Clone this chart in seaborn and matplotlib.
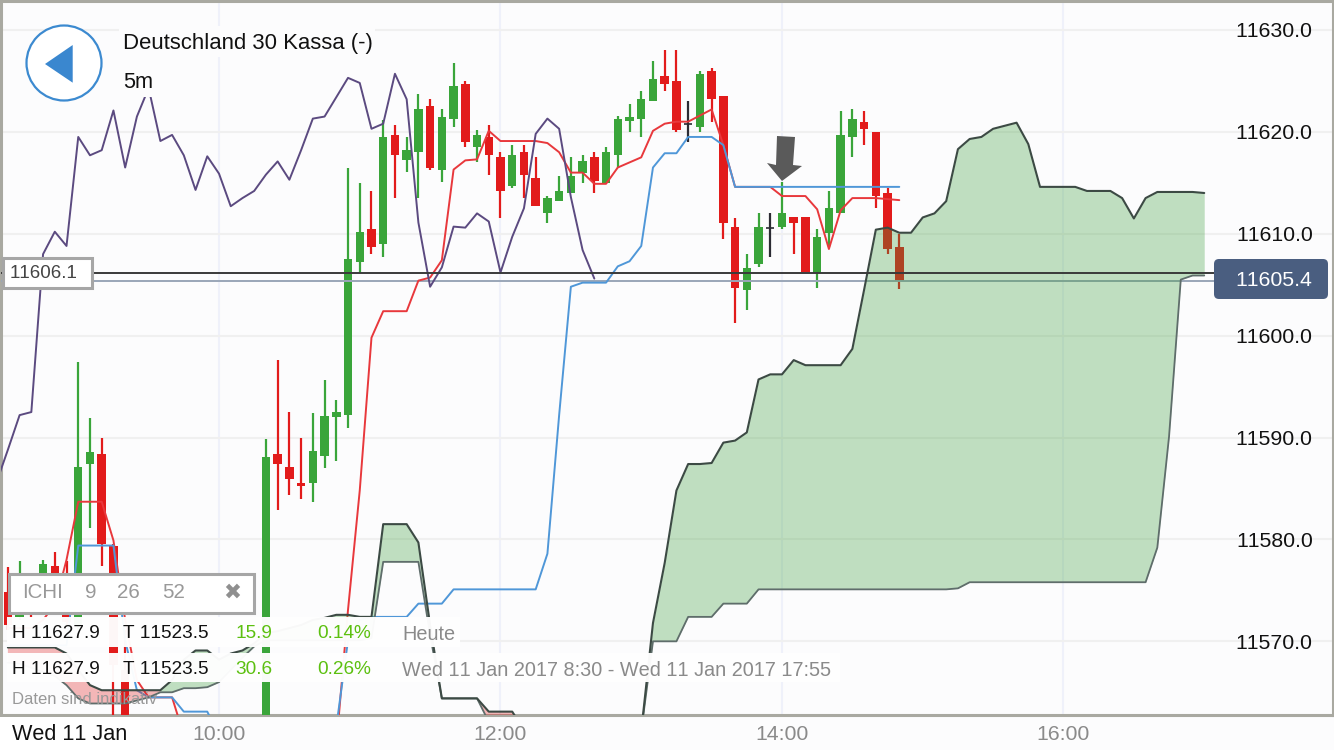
import numpy as np
import matplotlib
matplotlib.use("Agg")
import matplotlib.pyplot as plt
import seaborn as sns
from matplotlib.patches import Circle, FancyBboxPatch, Polygon, Rectangle
from matplotlib.transforms import Affine2D

# minutes since midnight
candle_times = list(range(510, 565, 5)) + list(range(620, 895, 5))
highs = [11577.3, 11577.9, 11576.5, 11578.0, 11578.8, 11577.9, 11597.4, 11591.9, 11590.0, 11579.6, 11571.1,
         11589.9, 11597.6, 11592.5, 11590.0, 11592.4, 11595.6, 11593.7, 11616.5, 11615.0, 11614.2, 11621.2,
         11620.7, 11619.5, 11623.7, 11623.2, 11622.2, 11626.8, 11625.0, 11620.2, 11620.7, 11618.0, 11618.7,
         11618.7, 11617.5, 11613.7, 11615.7, 11617.5, 11617.7, 11618.0, 11618.5, 11621.6, 11622.7, 11624.0,
         11627.0, 11628.0, 11628.0, 11623.0, 11626.0, 11626.3, 11623.5, 11611.5, 11608.0, 11612.0, 11612.0,
         11615.1, 11611.6, 11611.6, 11610.5, 11614.2, 11622.0, 11622.2, 11622.0, 11620.0, 11614.5, 11610.0]
opens = [11574.8, 11572.4, 11576.0, 11574.5, 11577.4, 11575.0, 11571.6, 11587.4, 11588.4, 11579.4, 11567.2,
         11561.3, 11588.4, 11587.1, 11585.5, 11585.5, 11588.2, 11592.0, 11592.2, 11607.2, 11610.5, 11609.0,
         11619.7, 11617.2, 11618.0, 11622.5, 11616.3, 11621.3, 11624.7, 11618.5, 11619.5, 11617.5, 11614.7,
         11618.0, 11615.5, 11612.0, 11613.2, 11614.0, 11616.0, 11617.5, 11615.0, 11617.7, 11621.1, 11621.3,
         11623.0, 11625.5, 11625.0, 11620.8, 11620.5, 11626.0, 11623.5, 11610.7, 11604.5, 11607.0, 11610.6,
         11610.7, 11611.6, 11611.6, 11606.1, 11610.1, 11612.0, 11619.5, 11621.0, 11620.0, 11614.0, 11608.7]
closes = [11571.6, 11575.0, 11573.6, 11577.6, 11575.0, 11571.9, 11587.1, 11588.6, 11579.6, 11567.7, 11561.3,
          11588.1, 11587.4, 11585.9, 11585.2, 11588.7, 11592.1, 11592.5, 11607.5, 11610.2, 11608.7, 11619.5,
          11617.7, 11618.2, 11622.2, 11616.5, 11621.5, 11624.5, 11619.0, 11619.7, 11617.7, 11614.2, 11617.7,
          11615.8, 11612.7, 11613.5, 11614.2, 11615.7, 11617.1, 11615.2, 11618.0, 11621.3, 11621.5, 11623.2,
          11625.2, 11624.7, 11620.2, 11620.8, 11625.7, 11623.2, 11611.1, 11604.7, 11606.6, 11610.7, 11610.6,
          11612.0, 11611.1, 11606.2, 11609.7, 11612.5, 11619.7, 11621.3, 11620.3, 11613.7, 11608.5, 11605.4]
lows = [11571.1, 11572.1, 11572.4, 11574.0, 11574.0, 11571.6, 11571.1, 11581.1, 11577.4, 11562.3, 11560.8,
        11560.8, 11582.9, 11584.4, 11584.0, 11583.7, 11587.0, 11587.7, 11590.9, 11606.1, 11608.0, 11607.7,
        11613.5, 11616.1, 11613.5, 11616.3, 11615.1, 11620.5, 11618.5, 11617.0, 11615.8, 11611.5, 11614.5,
        11613.5, 11612.7, 11611.1, 11613.2, 11614.0, 11615.0, 11614.0, 11615.0, 11616.5, 11620.0, 11619.5,
        11623.0, 11624.0, 11620.0, 11619.0, 11620.0, 11621.0, 11609.5, 11601.2, 11602.5, 11606.7, 11607.7,
        11610.5, 11608.0, 11606.2, 11604.7, 11608.7, 11612.0, 11617.5, 11618.7, 11612.5, 11608.0, 11604.6]

lagging_times = list(range(505, 765, 5))
lagging = [11585.5, 11588.8, 11592.2, 11592.5, 11608.0, 11610.2, 11608.8, 11619.5, 11617.7, 11618.2, 11622.1,
           11616.5, 11621.5, 11624.3, 11619.1, 11619.7, 11617.7, 11614.3, 11617.6, 11615.9, 11612.7, 11613.5,
           11614.2, 11615.8, 11617.1, 11615.3, 11618.2, 11621.3, 11621.5, 11623.4, 11625.3, 11624.8, 11620.3,
           11620.8, 11625.7, 11623.2, 11611.1, 11604.8, 11606.7, 11610.7, 11610.6, 11612.0, 11611.2, 11606.2,
           11609.7, 11612.5, 11619.8, 11621.3, 11620.3, 11613.6, 11608.4, 11605.6]

left_times = list(range(510, 590, 5))
tenkan_left = [11571.3, 11571.3, 11571.3, 11572.1, 11573.6, 11578.0, 11583.7, 11583.7, 11583.7, 11579.9,
               11572.1, 11566.2, 11564.5, 11564.5, 11564.5, 11560.8]
kijun_left_times = list(range(510, 605, 5))
kijun_left = [11569.6, 11569.6, 11569.6, 11569.6, 11569.6, 11569.6, 11579.4, 11579.4, 11579.4, 11579.4,
              11570.1, 11565.2, 11564.5, 11564.5, 11564.5, 11563.1, 11563.1, 11563.1, 11560.8]

right_times = list(range(650, 895, 5))
tenkan_right = [11559.8, 11573.1, 11584.8, 11599.8, 11602.4, 11602.4, 11602.4, 11605.4, 11605.7, 11607.4,
                11616.3, 11617.2, 11617.3, 11620.1, 11619.1, 11619.1, 11619.1, 11619.1, 11618.9, 11618.0,
                11616.0, 11616.0, 11614.9, 11614.9, 11616.5, 11617.0, 11617.5, 11620.1, 11620.8, 11621.0,
                11621.0, 11621.6, 11622.2, 11618.7, 11614.6, 11614.6, 11614.6, 11614.6, 11613.7, 11613.7,
                11613.7, 11612.4, 11608.5, 11612.3, 11613.5, 11613.5, 11613.5, 11613.4, 11613.3]
kijun_right = [11561.6, 11570.1, 11572.1, 11572.4, 11572.4, 11572.4, 11572.4, 11573.7, 11573.7, 11573.7,
               11575.1, 11575.1, 11575.1, 11575.1, 11575.1, 11575.1, 11575.1, 11575.1, 11578.6, 11592.2,
               11604.8, 11605.2, 11605.2, 11605.2, 11606.8, 11607.3, 11608.8, 11616.5, 11617.9, 11617.9,
               11619.5, 11619.5, 11619.5, 11618.7] + [11614.6] * 15

cloud1_times = list(range(510, 735, 5))
cloud1_upper = [11569.4, 11569.4, 11569.4, 11569.4, 11569.4, 11568.8, 11567.2, 11565.7, 11565.2, 11565.2,
                11565.2, 11565.2, 11565.2, 11565.2, 11566.2, 11568.2, 11569.1, 11569.1, 11568.2, 11568.8,
                11569.1, 11569.8, 11570.8, 11571.0, 11571.3, 11571.6, 11572.1, 11572.3, 11572.6, 11572.6,
                11572.4, 11572.4, 11581.5, 11581.5, 11581.5, 11579.7, 11571.6, 11564.4, 11564.4, 11564.4,
                11564.4, 11563.1, 11563.1, 11563.1, 11561.3]
cloud1_lower = [11567.9, 11567.8, 11567.4, 11567.0, 11566.6, 11565.7, 11564.4, 11563.9, 11563.9, 11563.9,
                11563.9, 11564.2, 11564.5, 11565.0, 11565.0, 11565.4, 11565.4, 11565.5, 11566.0, 11567.2,
                11568.4, 11569.5, 11570.1, 11570.1, 11570.1, 11570.1, 11570.1, 11570.1, 11570.1, 11570.1,
                11570.1, 11570.3, 11577.8, 11577.8, 11577.8, 11577.8, 11570.6, 11564.4, 11564.4, 11564.4,
                11564.4, 11562.1, 11562.1, 11562.1, 11561.0]

cloud2_times = list(range(780, 1025, 5))
cloud2_upper = [11561.2, 11571.8, 11577.7, 11584.8, 11587.4, 11587.4, 11587.5, 11589.5, 11589.7, 11590.5,
                11595.7, 11596.2, 11596.2, 11597.6, 11597.1, 11597.1, 11597.1, 11597.1, 11598.7, 11604.5,
                11610.4, 11610.6, 11610.1, 11610.1, 11611.6, 11612.0, 11613.2, 11618.3, 11619.3, 11619.5,
                11620.3, 11620.6, 11620.9, 11618.8, 11614.6, 11614.6, 11614.6, 11614.6, 11614.2, 11614.2,
                11614.2, 11613.5, 11611.5, 11613.5, 11614.1, 11614.1, 11614.1, 11614.1, 11614.0]
cloud2_lower = ([11561.2] + [11570.0] * 3 + [11572.4] * 3 + [11573.7] * 3 + [11575.1] * 17 + [11575.2]
                + [11575.8] * 16 + [11579.2, 11590.1, 11605.5, 11605.9, 11605.9])

bid_price = 11606.1
last_price = 11605.4
y_ticks = [11570.0, 11580.0, 11590.0, 11600.0, 11610.0, 11620.0, 11630.0]
x_ticks = [600, 720, 840, 960]
x_labels = ["10:00", "12:00", "14:00", "16:00"]

GREEN = "#3aa53a"
RED = "#e21b1b"
TENKAN = "#e8383c"
KIJUN = "#4f97d8"
LAGGING = "#5b4a80"
EDGE_DARK = "#3c4a44"
EDGE_LOW = "#5f6d6b"
BORDER = "#a9a9a1"
BG = "#fcfcfd"

sns.set_style("white")
plt.rcParams["font.family"] = ["Liberation Sans", "DejaVu Sans"]
plt.rcParams["text.kerning_factor"] = 10

fig = plt.figure(figsize=(13.34, 7.5), dpi=100, facecolor=BG)
ax = fig.add_axes([1 / 1334, 35 / 750, 1331.5 / 1334, 714 / 750], facecolor=BG)

# pixel space of the screenshot, for the app's buttons and panels
px = Affine2D().scale(1, -1).translate(0, 750)

ax.set_xlim(600 + (1 - 219) / 2.3458, 600 + (1332.5 - 219) / 2.3458)
ax.set_ylim(11632.94 - 0.09814 * 715, 11632.94 - 0.09814 * 1)

ax.set_axisbelow(True)
ax.grid(True, axis="y", color="#f0f0f0", lw=1.5)
ax.grid(True, axis="x", color="#eff1fa", lw=1.5)
ax.set_yticks(y_ticks)
ax.set_yticklabels([f"{v:.1f}" for v in y_ticks])
ax.set_xticks(x_ticks)
ax.set_xticklabels(x_labels)
ax.tick_params(axis="y", left=False, right=False, labelleft=False, labelright=True,
               pad=-17.8, labelsize=15.3, labelcolor="#111111")
ax.tick_params(axis="x", bottom=False, pad=3.6, labelsize=15.3, labelcolor="#8a8a8a")
plt.setp(ax.get_yticklabels(), ha="right")
for spine in ax.spines.values():
    spine.set_color(BORDER)
    spine.set_linewidth(2.2)
    spine.set_visible(True)

# candles
for t, o, h, l, c in zip(candle_times, opens, highs, lows, closes):
    color = "#2b2b33" if o == c else (GREEN if c > o else RED)
    ax.vlines(t, l, h, color=color, lw=1.6, zorder=3)
    if o == c:
        ax.hlines(c, t - 1.7, t + 1.7, color=color, lw=1.2, zorder=3)
    else:
        ax.bar(t, abs(c - o), bottom=min(o, c), width=3.6, color=color, lw=0, zorder=3)

ax.hlines(last_price, ax.get_xlim()[0], 1024, color="#9aa6b8", lw=1.4, zorder=4)

sns.lineplot(x=left_times, y=tenkan_left, color=TENKAN, lw=1.4, ax=ax, errorbar=None, zorder=4)
sns.lineplot(x=right_times, y=tenkan_right, color=TENKAN, lw=1.4, ax=ax, errorbar=None, zorder=4)
sns.lineplot(x=kijun_left_times, y=kijun_left, color=KIJUN, lw=1.4, ax=ax, errorbar=None, zorder=4.5)
sns.lineplot(x=right_times, y=kijun_right, color=KIJUN, lw=1.4, ax=ax, errorbar=None, zorder=4.5)
sns.lineplot(x=lagging_times, y=lagging, color=LAGGING, lw=1.4, ax=ax, errorbar=None, zorder=4.5)

# cloud: the first stretch turns from red to green and back
t1 = np.array(cloud1_times)
ax.fill_between(t1, cloud1_lower, cloud1_upper, where=(t1 <= 575) | (t1 >= 710), color="#e21b1b", alpha=0.31, lw=0, zorder=5)
ax.fill_between(t1, cloud1_lower, cloud1_upper, where=(t1 >= 575) & (t1 <= 710), color="#3a9e3a", alpha=0.31, lw=0, zorder=5)
ax.fill_between(cloud2_times, cloud2_lower, cloud2_upper, color="#3a9e3a", alpha=0.31, lw=0, zorder=5)
for times, upper, lower in [(cloud1_times, cloud1_upper, cloud1_lower), (cloud2_times, cloud2_upper, cloud2_lower)]:
    sns.lineplot(x=times, y=lower, color=EDGE_LOW, lw=1.3, ax=ax, errorbar=None, zorder=5.5)
    sns.lineplot(x=times, y=upper, color=EDGE_DARK, lw=1.5, ax=ax, errorbar=None, zorder=5.6)

ax.hlines(bid_price, ax.get_xlim()[0], 1024, color="#3a3a3a", lw=1.4, zorder=6)
ax.set_xlabel("")
ax.set_ylabel("")

# signal arrow
ax.add_patch(Polygon([(777, 136), (795, 137), (793, 165), (802, 166), (782, 181), (767, 163), (776, 165)],
                     transform=px, facecolor="#5a5a5a", edgecolor="none", zorder=7))

# header
ax.add_patch(Rectangle((119, 26), 256, 31, transform=px, facecolor=BG, edgecolor="none", zorder=8))
ax.add_patch(Rectangle((119, 70), 38, 27, transform=px, facecolor=BG, edgecolor="none", zorder=8))
ax.add_patch(Circle((64, 63), 37.5, transform=px, facecolor="white", edgecolor="#3c8ad0", lw=1.6, zorder=8))
ax.add_patch(Polygon([(72.7, 45), (45, 64), (72.7, 82.7)], transform=px, facecolor="#3a87cf", edgecolor="none", zorder=9))
ax.text(123, 44, "Deutschland 30 Kassa (-)", transform=px, fontsize=15.9, color="#111111", va="center", zorder=9)
ax.text(123, 83, "5m", transform=px, fontsize=15.6, color="#111111", va="center", zorder=9)

# price labels
ax.add_patch(Rectangle((3, 258), 89, 30, transform=px, facecolor="white", edgecolor="#a6a6a6", lw=2.2, zorder=8))
ax.text(44, 273, "11606.1", transform=px, fontsize=13.5, color="#444444", ha="center", va="center", zorder=9)
ax.add_patch(FancyBboxPatch((1218, 263), 106, 32, boxstyle="round,pad=4,rounding_size=5", transform=px,
                            facecolor="#4a5e80", edgecolor="none", zorder=8, clip_on=False))
ax.text(1274, 280, "11605.4", transform=px, fontsize=15.3, color="white", ha="center", va="center", zorder=9)

# indicator box and stats panels
ax.add_patch(Rectangle((9, 574), 245, 39, transform=px, facecolor="white", edgecolor="#a6a6a6", lw=2.2, zorder=8))
for x, label in [(22, "ICHI"), (85, "9"), (117, "26"), (162, "52")]:
    ax.text(x, 592, label, transform=px, fontsize=14.8, color="#999999", va="center", zorder=9)
ax.text(232.5, 593, "\u2716", transform=px, fontsize=15.5, color="#8f8f8f", ha="center", va="center",
        family="DejaVu Sans", zorder=9)
ax.add_patch(Rectangle((7, 617), 453, 30, transform=px, facecolor="white", alpha=0.97, edgecolor="none", zorder=8))
ax.add_patch(Rectangle((7, 653), 833, 29, transform=px, facecolor="white", alpha=0.97, edgecolor="none", zorder=8))
for y, change, pct, period in [(634, "15.9", "0.14%", "Heute"),
                               (670, "30.6", "0.26%", "Wed 11 Jan 2017 8:30 - Wed 11 Jan 2017 17:55")]:
    ax.text(12, y, "H 11627.9", transform=px, fontsize=13.7, color="#111111", va="center", zorder=9)
    ax.text(123, y, "T 11523.5", transform=px, fontsize=13.7, color="#111111", va="center", zorder=9)
    ax.text(272, y, change, transform=px, fontsize=13.7, color="#5cc010", ha="right", va="center", zorder=9)
    ax.text(371, y, pct, transform=px, fontsize=13.7, color="#5cc010", ha="right", va="center", zorder=9)
    ax.text(402, y, period, transform=px, fontsize=14.3, color="#8a8a8a", va="center", zorder=9)
ax.text(12, 699, "Daten sind indikativ", transform=px, fontsize=12, color="#999999", va="center", zorder=9)

# date strip under the chart
fig.add_artist(Rectangle((0, 717), 140, 33, transform=px, facecolor="white", edgecolor="none"))
fig.text(12, 734, "Wed 11 Jan", transform=px, fontsize=15.6, color="#111111", va="center")

fig.savefig("out.png", dpi=100)
